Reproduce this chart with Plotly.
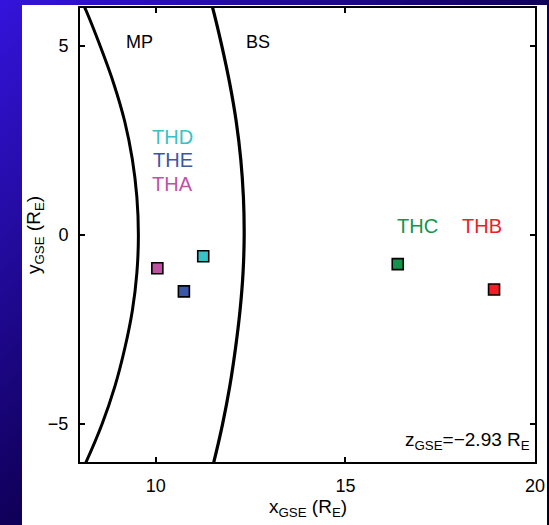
import base64
import plotly.graph_objects as go

# ---- data ----
probes = ["THA", "THE", "THD", "THC", "THB"]
probe_x = [10.04, 10.74, 11.25, 16.38, 18.92]
probe_y = [-0.88, -1.49, -0.56, -0.77, -1.44]
probe_colors = ["#c052a6", "#3c56a8", "#36c2c6", "#14944a", "#ee2026"]

label_text = ["THD", "THE", "THA", "THC", "THB"]
label_x = [10.45, 10.45, 10.45, 16.91, 18.61]
label_y = [2.60, 1.98, 1.34, 0.23, 0.23]
label_colors = ["#36c2c6", "#3c56a8", "#c052a6", "#14944a", "#ee2026"]

# boundary curves at whole-unit y steps
curve_y = [6.5, 6, 5, 4, 3, 2, 1, 0, -1, -2, -3, -4, -5, -6, -6.5]
mp_x = [7.88, 8.13, 8.53, 8.89, 9.18, 9.38, 9.50, 9.54, 9.50, 9.38, 9.18, 8.92, 8.58, 8.16, 7.92]
bs_x = [11.36, 11.50, 11.74, 11.95, 12.12, 12.24, 12.31, 12.33, 12.30, 12.22, 12.10, 11.95, 11.76, 11.53, 11.40]

boundary_names = ["MP", "BS"]
boundary_label_x = [9.56, 12.70]
boundary_label_y = [5.11, 5.11]

x_ticks = [10, 15, 20]
y_ticks = [-5, 0, 5]
x_range = [8, 20]
y_range = [-6, 6]

FONT = "Liberation Sans, Arial, Helvetica, sans-serif"
W, H = 549, 525
ML, MR, MT, MB = 80, 14, 8, 63
PW, PH = W - ML - MR, H - MT - MB

fig = go.Figure()

fig.add_trace(go.Scatter(x=mp_x, y=curve_y, mode="lines", line=dict(color="black", width=3, shape="spline", smoothing=1),
                         showlegend=False, hoverinfo="skip"))
fig.add_trace(go.Scatter(x=bs_x, y=curve_y, mode="lines", line=dict(color="black", width=3.2, shape="spline", smoothing=1),
                         showlegend=False, hoverinfo="skip"))

fig.add_trace(go.Scatter(x=probe_x, y=probe_y, mode="markers", text=probes,
                         marker=dict(symbol="square", size=11, color=probe_colors,
                                     line=dict(color="black", width=1.6)),
                         showlegend=False))

for t, x, y, c in zip(label_text, label_x, label_y, label_colors):
    fig.add_annotation(x=x, y=y, text=t, showarrow=False, font=dict(family=FONT, size=20, color=c),
                       xanchor="center", yanchor="middle")

for t, x, y in zip(boundary_names, boundary_label_x, boundary_label_y):
    fig.add_annotation(x=x, y=y, text=t, showarrow=False, font=dict(family=FONT, size=18, color="black"),
                       xanchor="center", yanchor="middle")

fig.add_annotation(x=1, y=-5.45, xref="paper", yref="y", xanchor="right", yanchor="middle", xshift=-3,
                   text="z<sub>GSE</sub>=−2.93 R<sub>E</sub>", showarrow=False,
                   font=dict(family=FONT, size=19, color="black"))

# axis titles
fig.add_annotation(x=0.5, y=0, xref="paper", yref="paper", xanchor="center", yanchor="middle", yshift=-46,
                   text="x<sub>GSE</sub> (R<sub>E</sub>)", showarrow=False,
                   font=dict(family=FONT, size=19, color="black"))
fig.add_annotation(x=0, y=0.5, xref="paper", yref="paper", xanchor="center", yanchor="middle", xshift=-45,
                   text="y<sub>GSE</sub> (R<sub>E</sub>)", showarrow=False, textangle=-90,
                   font=dict(family=FONT, size=19, color="black"))

svg = f"""<svg xmlns='http://www.w3.org/2000/svg' width='{W}' height='{H}' viewBox='0 0 {W} {H}' preserveAspectRatio='none'>
<defs><linearGradient id='g' x1='0' y1='0' x2='1' y2='1'>
<stop offset='0' stop-color='#3414dc'/><stop offset='0.5' stop-color='#10005a'/><stop offset='1' stop-color='#000020'/>
</linearGradient></defs>
<rect x='0' y='0' width='{W}' height='{H}' fill='url(#g)'/>
<rect x='22' y='5' width='525' height='{H - 5}' fill='white'/>
</svg>"""
src = "data:image/svg+xml;base64," + base64.b64encode(svg.encode()).decode()

fig.add_layout_image(dict(source=src, xref="paper", yref="paper",
                          x=-ML / PW, y=1 + MT / PH, sizex=W / PW, sizey=H / PH,
                          xanchor="left", yanchor="top", sizing="stretch", layer="below"))

axis_common = dict(showgrid=False, zeroline=False, showline=True, linecolor="black", linewidth=2,
                   mirror="ticks", ticks="inside", ticklen=5, tickwidth=2, tickcolor="black",
                   tickfont=dict(family=FONT, size=18, color="black"))

fig.update_xaxes(range=x_range, tickvals=x_ticks, ticklabelstandoff=6, **axis_common)
fig.update_yaxes(range=y_range, tickvals=y_ticks, ticklabelstandoff=6, **axis_common)

fig.update_layout(width=W, height=H, margin=dict(l=ML, r=MR, t=MT, b=MB, autoexpand=False),
                  paper_bgcolor="#10005a", plot_bgcolor="white", showlegend=False,
                  font=dict(family=FONT))

fig.write_html("out.html")
